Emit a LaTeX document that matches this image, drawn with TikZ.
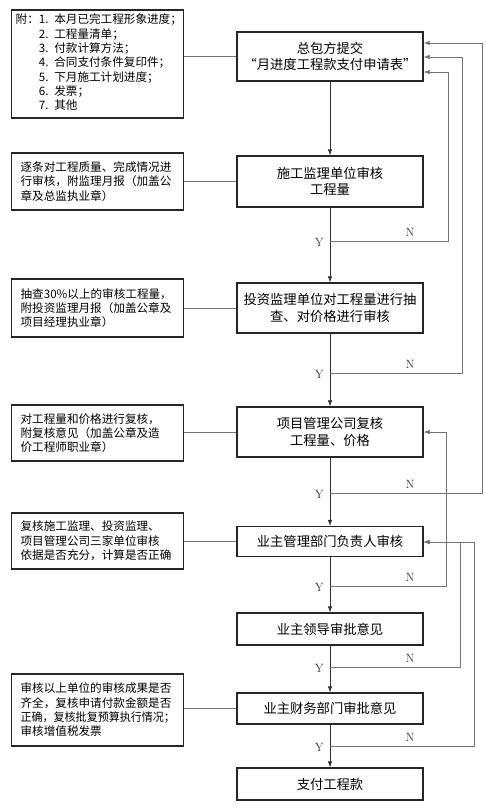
\documentclass[tikz,border=0pt]{standalone}
\usepackage{fontspec}
\newfontfamily\cjk{Noto Sans CJK SC}
\usetikzlibrary{arrows.meta}
\definecolor{boxc}{gray}{0.15}
\definecolor{linec}{gray}{0.2}
\definecolor{fbc}{gray}{0.45}
\begin{document}
\begin{tikzpicture}[x=1pt,y=-1pt,
  mainbox/.style={draw=boxc, line width=1.3pt, minimum width=186pt, align=center,
    font=\cjk\fontsize{13.3}{16.5}\selectfont, inner sep=0pt},
  sidebox/.style={draw=boxc, line width=1.3pt, text width=154pt, align=left,
    font=\cjk\fontsize{11.6}{14.3}\selectfont, inner xsep=9pt, inner ysep=0pt, anchor=west},
  arr/.style={draw=linec, line width=0.7pt, -{Latex[length=6pt,width=4.5pt]}},
  fb/.style={draw=fbc, line width=0.7pt, -{Latex[length=6pt,width=4.5pt]}},
  conn/.style={draw=fbc, line width=0.7pt},
  yn/.style={font=\fontsize{12}{12}\selectfont, text=black!80, inner sep=0pt}
]
\useasboundingbox (0,0) rectangle (486,807);
\fill[white] (0,0) rectangle (486,807);

% main boxes
\node[mainbox, minimum height=49pt] (m1) at (330,56.5) {总包方提交\\“月进度工程款支付申请表”};
\node[mainbox, minimum height=51pt] (m2) at (330,181.5) {施工监理单位审核\\工程量};
\node[mainbox, minimum height=50pt] (m3) at (330,308) {投资监理单位对工程量进行抽\\查、对价格进行审核};
\node[mainbox, minimum height=50pt] (m4) at (330,432) {项目管理公司复核\\工程量、价格};
\node[mainbox, minimum height=30pt] (m5) at (330,541.5) {业主管理部门负责人审核};
\node[mainbox, minimum height=32pt] (m6) at (330,629) {业主领导审批意见};
\node[mainbox, minimum height=31pt] (m7) at (330,708.5) {业主财务部门审批意见};
\node[mainbox, minimum height=32pt] (m8) at (330,784) {支付工程款};

% side boxes
\node[sidebox, minimum height=108pt, inner xsep=4pt, text width=164pt] (s1) at (11,64) {%
\begin{tabular}{@{}l@{}l@{}}
附：& 1. 本月已完工程形象进度；\\
 & 2. 工程量清单；\\
 & 3. 付款计算方法；\\
 & 4. 合同支付条件复印件；\\
 & 5. 下月施工计划进度；\\
 & 6. 发票；\\
 & 7. 其他
\end{tabular}};
\node[sidebox, minimum height=57pt] (s2) at (11,181.5) {逐条对工程质量、完成情况进\\行审核，附监理月报（加盖公\\章及总监执业章）};
\node[sidebox, minimum height=58pt] (s3) at (11,308) {抽查30\%以上的审核工程量，\\附投资监理月报（加盖公章及\\项目经理执业章）};
\node[sidebox, minimum height=56pt] (s4) at (11,433) {对工程量和价格进行复核，\\附复核意见（加盖公章及造\\价工程师职业章）};
\node[sidebox, minimum height=56pt] (s5) at (11,541) {复核施工监理、投资监理、\\项目管理公司三家单位审核\\依据是否充分，计算是否正确};
\node[sidebox, minimum height=72pt] (s7) at (11,710) {审核以上单位的审核成果是否\\齐全，复核申请付款金额是否\\\scalebox{0.95}[1]{正确，复核批复预算执行情况；}\\审核增值税发票};

% side connectors
\draw[conn] (s1.east |- m1) -- (m1.west);
\draw[conn] (s2.east |- m2) -- (m2.west);
\draw[conn] (s3.east |- m3) -- (m3.west);
\draw[conn] (s4.east |- m4) -- (m4.west);
\draw[conn] (s5.east |- m5) -- (m5.west);
\draw[conn] (s7.east |- m7) -- (m7.west);

% main flow
\draw[arr] (m1) -- (m2);
\draw[arr] (m2) -- (m3);
\draw[arr] (m3) -- (m4);
\draw[arr] (m4) -- (m5);
\draw[arr] (m5) -- (m6);
\draw[arr] (m6) -- (m7);
\draw[arr] (m7) -- (m8);

% junctions
\coordinate (j2) at (330,241);
\coordinate (j3) at (330,373);
\coordinate (j4) at (330,493);
\coordinate (j5) at (330,586);
\coordinate (j6) at (330,667);
\coordinate (j7) at (330,746);

% feedback corners
\coordinate (f2) at (448,72);
\coordinate (f3) at (462,57);
\coordinate (f4) at (482,43);
\coordinate (f5) at (446,432);
\coordinate (f6) at (460,542);
\coordinate (f7) at (474,542);

\draw[fb] (j2) -| (f2) -- (m1.east |- f2);
\draw[fb] (j3) -| (f3) -- (m1.east |- f3);
\draw[fb] (j4) -| (f4) -- (m1.east |- f4);
\draw[fb] (j5) -| (f5) -- (m4.east |- f5);
\draw[fb] (j6) -| (f6) -- (m5.east |- f6);
\draw[fb] (j7) -| (f7) -- (m5.east |- f7);

% labels
\foreach \j in {j2,j3,j4,j5,j6,j7}{
  \node[yn, anchor=east] (y\j) at ([xshift=-6pt,yshift=-1pt]\j) {Y};
  \node[yn] (n\j) at ([xshift=80pt,yshift=9pt]\j) {N};
}
\end{tikzpicture}
\end{document}
